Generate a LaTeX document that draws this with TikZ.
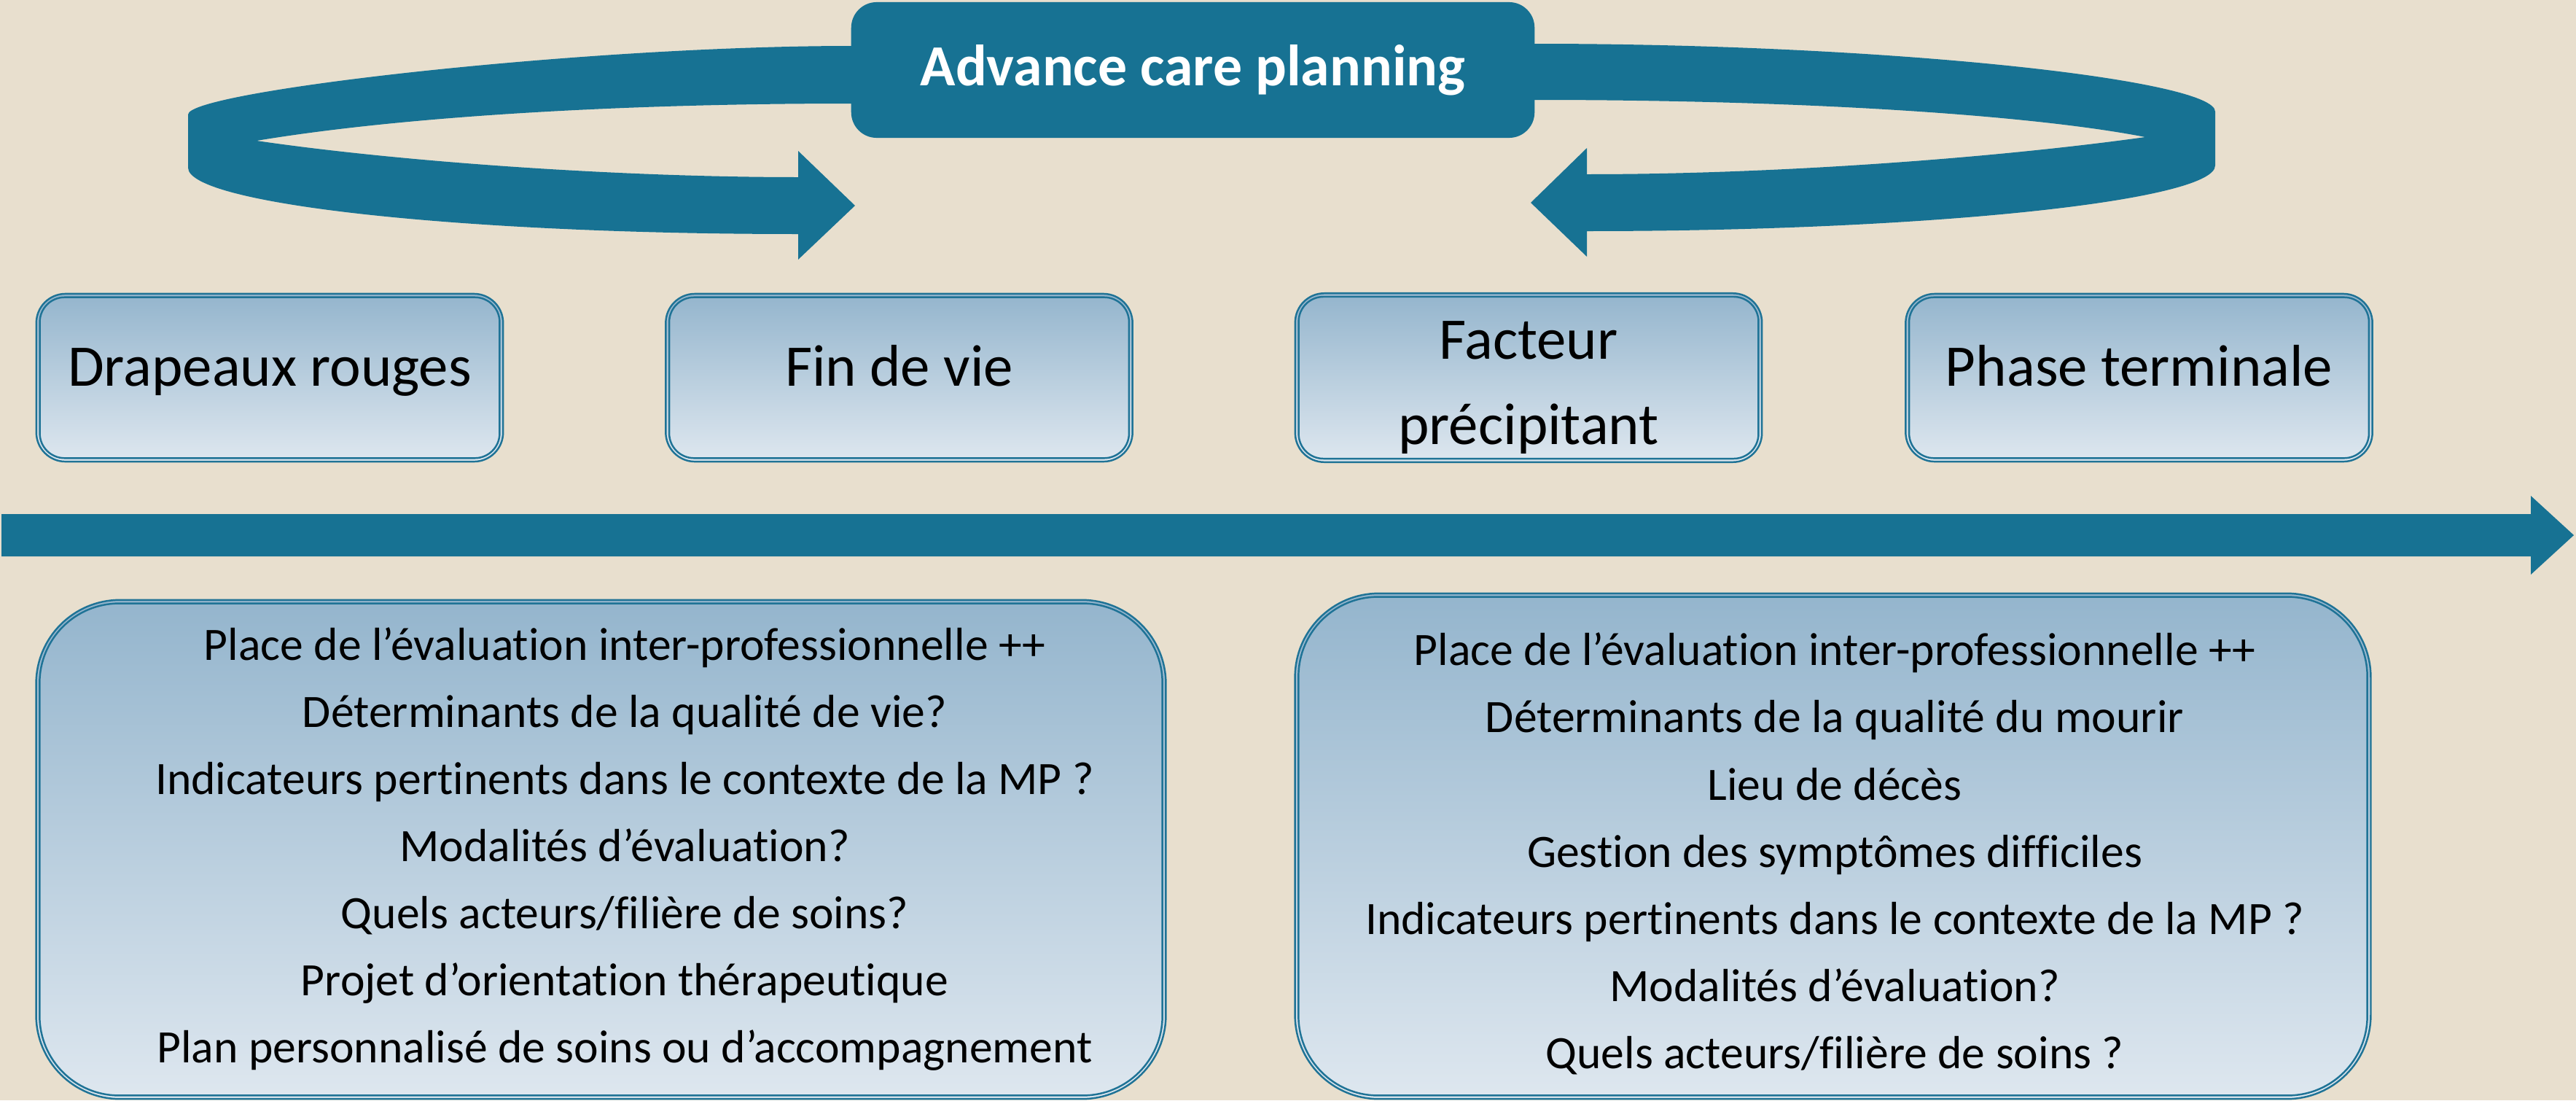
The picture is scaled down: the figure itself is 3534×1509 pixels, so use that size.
\documentclass[tikz,border=0pt]{standalone}
\usepackage{fontspec}
\setmainfont[Ligatures=NoCommon]{Carlito}
\usepackage{tikz}
\definecolor{petrol}{RGB}{23,114,147}
\definecolor{paper}{RGB}{232,223,206}
\definecolor{frame}{RGB}{31,115,150}
\definecolor{boxtop}{RGB}{148,181,205}
\definecolor{boxbottom}{RGB}{222,231,239}
\tikzstyle{banner} = [rectangle, fill=petrol, rounded corners=0.35cm, text=white, text centered, minimum width=9.37cm, minimum height=1.86cm, font=\bfseries\fontsize{22.7}{28}\selectfont]
\tikzstyle{stage} = [rectangle, draw=frame, line width=0.7pt, rounded corners=0.4cm, top color=boxtop, bottom color=boxbottom, text centered, align=center, minimum width=6.4cm, minimum height=2.3cm, font=\fontsize{23}{33}\selectfont]
\tikzstyle{oneline} = [stage, text height=0.46cm, text depth=0.23cm]
\tikzstyle{bigbox} = [rectangle, draw=frame, line width=0.7pt, rounded corners=1.15cm, top color=boxtop, bottom color=boxbottom]
\tikzstyle{listtext} = [align=center, font=\fontsize{18.1}{26.2}\selectfont]
\tikzstyle{inset} = [draw=frame, line width=0.7pt]
\newcommand{\insetframe}[2]{\draw [inset, rounded corners=#2] ([shift={(0.06cm,0.06cm)}]#1.south west) rectangle ([shift={(-0.06cm,-0.06cm)}]#1.north east);}

\begin{document}
\begin{tikzpicture}[x=0.01cm, y=-0.01cm, node distance=8.63cm]
            \fill [paper] (0,0) rectangle (3534,1509);
            \useasboundingbox (0,0) rectangle (3534,1509);
            \fill [petrol] (1250,63) -- (1168,63) .. controls (800,63) and (258,125) .. (258,157)
                -- (258,230) .. controls (258,280) and (633,321) .. (1095,321)
                -- (1095,356) -- (1173,282) -- (1095,207) -- (1095,243)
                .. controls (850,243) and (550,222) .. (352,193)
                .. controls (550,160) and (850,142) .. (1168,142) -- (1250,142) -- cycle;
            \fill [petrol] (2000,60) -- (2105,60) .. controls (2600,60) and (3039,110) .. (3039,153)
                -- (3039,227) .. controls (3039,275) and (2650,317) .. (2177,317)
                -- (2177,352) -- (2100,278) -- (2177,203) -- (2177,239)
                .. controls (2450,239) and (2750,215) .. (2943,188)
                .. controls (2800,160) and (2500,137) .. (2105,137) -- (2000,137) -- cycle;
            \node (acp) [banner] at (1636.5,96) {Advance care planning};
            \node (drapeaux) [oneline] at (370,518) {Drapeaux rouges};
            \node (fin) [oneline, right of = drapeaux] {Fin de vie};
            \node (facteur) [stage, right of = fin] {\rule{0pt}{0.79cm}Facteur\\précipitant};
            \node (phase) [oneline, right of = facteur, xshift = -0.26cm] {Phase terminale};
            \insetframe{drapeaux}{0.34cm}
            \insetframe{fin}{0.34cm}
            \insetframe{facteur}{0.34cm}
            \insetframe{phase}{0.34cm}
            \fill [petrol] (2,705) -- (3472,705) -- (3472,680) -- (3531,734) -- (3472,788) -- (3472,763) -- (2,763) -- cycle;
            \node (lifebox) [bigbox, minimum width=15.49cm, minimum height=6.84cm] at (824.5,1165) {};
            \node (deathbox) [bigbox, minimum width=14.75cm, minimum height=6.93cm] at (2514.5,1160.5) {};
            \insetframe{lifebox}{1.09cm}
            \insetframe{deathbox}{1.09cm}
            \node (lifelist) [listtext] at (857,1164.5) {
                Place de l’évaluation inter-professionnelle ++\\
                Déterminants de la qualité de vie?\\
                Indicateurs pertinents dans le contexte de la MP ?\\
                Modalités d’évaluation?\\
                Quels acteurs/filière de soins?\\
                Projet d’orientation thérapeutique\\
                Plan personnalisé de soins ou d’accompagnement
            };
            \node (deathlist) [listtext] at (2517,1171) {
                Place de l’évaluation inter-professionnelle ++\\
                Déterminants de la qualité du mourir\\
                Lieu de décès\\
                Gestion des symptômes difficiles\\
                Indicateurs pertinents dans le contexte de la MP ?\\
                Modalités d’évaluation?\\
                Quels acteurs/filière de soins ?
            };
        \end{tikzpicture}
\end{document}
